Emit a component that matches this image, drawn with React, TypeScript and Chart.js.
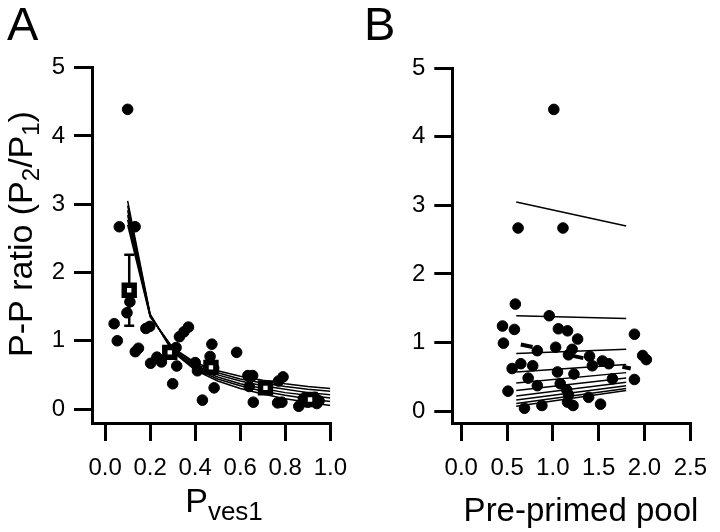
import React, { useEffect, useRef } from 'react';
import { Chart, registerables } from 'chart.js';

Chart.register(...registerables);

const FONT = "'Liberation Sans', Arial, Helvetica, sans-serif";

// ---------- Panel A data ----------
const A_X_TICKS = [0, 0.2, 0.4, 0.6, 0.8, 1.0];
const Y_TICKS = [0, 1, 2, 3, 4, 5];

const A_DOT_X = [0.100, 0.063, 0.133, 0.040, 0.054, 0.097, 0.110, 0.134, 0.148, 0.181, 0.198, 0.202, 0.230, 0.250, 0.300, 0.318, 0.315, 0.330, 0.350, 0.370, 0.400, 0.410, 0.432, 0.474, 0.466, 0.470, 0.482, 0.484, 0.584, 0.634, 0.655, 0.640, 0.658, 0.766, 0.785, 0.770, 0.790, 0.860, 0.880, 0.900, 0.930, 0.950, 0.940];
const A_DOT_Y = [4.39, 2.67, 2.67, 1.25, 1.00, 1.41, 1.57, 0.84, 0.89, 1.18, 1.21, 0.67, 0.76, 0.69, 0.37, 0.63, 0.90, 1.06, 1.13, 1.20, 0.68, 0.56, 0.13, 0.95, 0.77, 0.65, 0.60, 0.31, 0.83, 0.49, 0.49, 0.33, 0.10, 0.09, 0.10, 0.41, 0.47, 0.04, 0.15, 0.10, 0.17, 0.12, 0.08];

const A_MEAN_X = [0.107, 0.287, 0.470, 0.712, 0.910];
const A_MEAN_Y = [1.74, 0.83, 0.61, 0.31, 0.14];
const A_MEAN_ERR = [0.52, 0.08, 0.07, 0.05, 0.03];

const A_FIT_X = [0.1, 0.2, 0.3, 0.4, 0.5, 0.6, 0.7, 0.8, 0.9, 1.0];
const A_FIT_POOL_1 = [3.05, 1.39, 0.84, 0.57, 0.41, 0.30, 0.22, 0.15, 0.10, 0.05];
const A_FIT_POOL_2 = [2.98, 1.38, 0.85, 0.59, 0.44, 0.34, 0.26, 0.20, 0.15, 0.11];
const A_FIT_POOL_3 = [2.91, 1.37, 0.86, 0.61, 0.47, 0.37, 0.30, 0.24, 0.20, 0.16];
const A_FIT_POOL_4 = [2.84, 1.37, 0.87, 0.64, 0.50, 0.41, 0.34, 0.29, 0.24, 0.21];
const A_FIT_POOL_5 = [2.77, 1.36, 0.89, 0.66, 0.53, 0.44, 0.38, 0.33, 0.29, 0.26];
const A_FIT_POOL_6 = [2.70, 1.35, 0.90, 0.68, 0.56, 0.48, 0.42, 0.37, 0.33, 0.30];
const A_FITS = [A_FIT_POOL_1, A_FIT_POOL_2, A_FIT_POOL_3, A_FIT_POOL_4, A_FIT_POOL_5, A_FIT_POOL_6];

// ---------- Panel B data ----------
const B_X_TICKS = [0, 0.5, 1.0, 1.5, 2.0, 2.5];

const B_DOT_X = [1.01, 0.62, 1.11, 0.59, 0.96, 0.45, 0.58, 0.46, 1.06, 1.16, 1.27, 1.89, 1.03, 0.83, 1.21, 1.17, 1.40, 1.98, 2.02, 1.54, 1.61, 1.43, 0.65, 0.78, 0.555, 1.05, 1.23, 0.73, 1.65, 1.89, 0.83, 1.08, 0.51, 1.15, 1.17, 1.39, 0.69, 0.88, 1.16, 1.22, 1.52];
const B_DOT_Y = [4.40, 2.67, 2.67, 1.56, 1.39, 1.24, 1.19, 0.99, 1.20, 1.17, 1.05, 1.12, 0.93, 0.88, 0.90, 0.82, 0.80, 0.81, 0.75, 0.73, 0.69, 0.66, 0.69, 0.66, 0.62, 0.57, 0.54, 0.48, 0.47, 0.46, 0.37, 0.40, 0.29, 0.31, 0.24, 0.20, 0.04, 0.08, 0.13, 0.08, 0.10];

const B_FIT_X = [0.6, 1.8];
const B_FIT_START = [3.05, 1.39, 0.84, 0.57, 0.41, 0.30, 0.22, 0.16, 0.11, 0.07];
const B_FIT_END = [2.70, 1.35, 0.90, 0.68, 0.56, 0.48, 0.42, 0.37, 0.33, 0.30];

const B_DASH_X = [0.65, 1.85];
const B_DASH_Y = [0.97, 0.62];

// ---------- helpers ----------
type Part = [string, number, number];

function drawRich(ctx: CanvasRenderingContext2D, parts: Part[], cx: number, baseline: number) {
  let total = 0;
  const widths = parts.map(([t, s]) => {
    ctx.font = `${s}px ${FONT}`;
    const w = ctx.measureText(t).width;
    total += w;
    return w;
  });
  let x = cx - total / 2;
  parts.forEach(([t, s, dy], i) => {
    ctx.font = `${s}px ${FONT}`;
    ctx.fillText(t, x, baseline + dy);
    x += widths[i];
  });
}

function makeScale(min: number, max: number, ticks: number[], digits: number, pad: number, fit: (s: any) => void) {
  return {
    type: 'linear',
    min,
    max,
    afterBuildTicks: (s: any) => {
      s.ticks = ticks.map((v) => ({ value: v }));
    },
    afterFit: fit,
    grid: {
      display: true,
      drawOnChartArea: false,
      drawTicks: true,
      tickLength: 18,
      tickWidth: 3,
      tickColor: '#000',
      color: '#000',
      lineWidth: 3,
    },
    border: { display: true, color: '#000', width: 3 },
    ticks: {
      color: '#000',
      font: { family: FONT, size: 24 },
      padding: pad,
      maxRotation: 0,
      autoSkip: false,
      callback: (v: any) => Number(v).toFixed(digits),
    },
  };
}

function textPlugin(opts: {
  letter: string;
  letterX: number;
  xTitle: Part[];
  xTitleX: number;
  xTitleY: number;
  yTitle?: Part[];
  yTitleX?: number;
  yTitleY?: number;
}) {
  return {
    id: 'panelText',
    afterDraw(chart: any) {
      const ctx: CanvasRenderingContext2D = chart.ctx;
      ctx.save();
      ctx.fillStyle = '#000';
      ctx.textAlign = 'left';
      ctx.textBaseline = 'alphabetic';
      ctx.font = `47px ${FONT}`;
      ctx.fillText(opts.letter, opts.letterX, 40);
      drawRich(ctx, opts.xTitle, opts.xTitleX, opts.xTitleY);
      if (opts.yTitle) {
        ctx.translate(opts.yTitleX as number, opts.yTitleY as number);
        ctx.rotate(-Math.PI / 2);
        drawRich(ctx, opts.yTitle, 0, 0);
      }
      ctx.restore();
    },
  };
}

const errorBarPlugin = {
  id: 'errBars',
  beforeDatasetsDraw(chart: any) {
    const { ctx, scales } = chart;
    const xs = scales.x;
    const ys = scales.y;
    ctx.save();
    ctx.strokeStyle = '#000';
    ctx.lineWidth = 2.5;
    A_MEAN_X.forEach((mx, i) => {
      const px = xs.getPixelForValue(mx);
      const top = ys.getPixelForValue(A_MEAN_Y[i] + A_MEAN_ERR[i]);
      const bot = ys.getPixelForValue(A_MEAN_Y[i] - A_MEAN_ERR[i]);
      ctx.beginPath();
      ctx.moveTo(px, top);
      ctx.lineTo(px, bot);
      ctx.moveTo(px - 5, top);
      ctx.lineTo(px + 5, top);
      ctx.moveTo(px - 5, bot);
      ctx.lineTo(px + 5, bot);
      ctx.stroke();
    });
    ctx.restore();
  },
};

function dots(xs: number[], ys: number[]) {
  return {
    data: xs.map((x, i) => ({ x, y: ys[i] })),
    pointRadius: 5.3,
    pointBorderWidth: 1,
    pointBackgroundColor: '#000',
    pointBorderColor: '#000',
    showLine: false,
    order: 2,
  };
}

function line(xs: number[], ys: number[], width = 1.5, dash: number[] = []) {
  return {
    data: xs.map((x, i) => ({ x, y: ys[i] })),
    showLine: true,
    borderColor: '#000',
    borderWidth: width,
    borderDash: dash,
    pointRadius: 0,
    fill: false,
    tension: 0,
    order: 3,
  };
}

const commonOptions = {
  responsive: false,
  animation: false,
  devicePixelRatio: 1,
  events: [],
  plugins: { legend: { display: false }, tooltip: { enabled: false } },
};

function configA(): any {
  return {
    type: 'scatter',
    data: {
      datasets: [
        ...A_FITS.map((ys) => line(A_FIT_X, ys)),
        dots(A_DOT_X, A_DOT_Y),
        {
          data: A_MEAN_X.map((x, i) => ({ x, y: A_MEAN_Y[i] })),
          pointStyle: 'rect',
          pointRadius: 7,
          pointBorderWidth: 5.5,
          pointBackgroundColor: '#fff',
          pointBorderColor: '#000',
          showLine: false,
          order: 1,
        },
      ],
    },
    options: {
      ...commonOptions,
      layout: { padding: { left: 0, right: 19.3, top: 67.7, bottom: 0 } },
      scales: {
        x: makeScale(-0.0583, 1.0, A_X_TICKS, 1, 13, (s: any) => { s.height = 109; }),
        y: makeScale(-0.205, 5, Y_TICKS, 0, 9, (s: any) => { s.width = 92; }),
      },
    },
    plugins: [
      errorBarPlugin,
      textPlugin({
        letter: 'A',
        letterX: 7,
        xTitle: [['P', 34, 0], ['ves1', 26, 8]],
        xTitleX: 224,
        xTitleY: 512,
        yTitle: [['P-P ratio (P', 34, 0], ['2', 24, 7], ['/P', 34, 0], ['1', 24, 7], [')', 34, 0]],
        yTitleX: 32,
        yTitleY: 234,
      }),
    ],
  };
}

function configB(): any {
  return {
    type: 'scatter',
    data: {
      datasets: [
        ...B_FIT_START.map((y0, i) => line(B_FIT_X, [y0, B_FIT_END[i]])),
        { ...line(B_DASH_X, B_DASH_Y, 4, [12, 40]), order: 2.5 },
        dots(B_DOT_X, B_DOT_Y),
      ],
    },
    options: {
      ...commonOptions,
      layout: { padding: { left: 0, right: 18.3, top: 68.3, bottom: 0 } },
      scales: {
        x: makeScale(-0.098, 2.5, B_X_TICKS, 1, 13, (s: any) => { s.height = 109; }),
        y: makeScale(-0.175, 5, Y_TICKS, 0, 9, (s: any) => { s.width = 92.3; }),
      },
    },
    plugins: [
      textPlugin({
        letter: 'B',
        letterX: 4,
        xTitle: [['Pre-primed pool', 33, 0]],
        xTitleX: 221,
        xTitleY: 521,
      }),
    ],
  };
}

export default function App() {
  const refA = useRef<HTMLCanvasElement | null>(null);
  const refB = useRef<HTMLCanvasElement | null>(null);

  useEffect(() => {
    const a = new Chart(refA.current as HTMLCanvasElement, configA());
    const b = new Chart(refB.current as HTMLCanvasElement, configB());
    return () => {
      a.destroy();
      b.destroy();
    };
  }, []);

  return (
    <div
      style={{
        position: 'absolute',
        left: 0,
        top: 0,
        width: 720,
        height: 532,
        background: '#fff',
        display: 'flex',
        overflow: 'hidden',
      }}
    >
      <canvas ref={refA} width={360} height={532} style={{ display: 'block', width: 360, height: 532 }} />
      <canvas ref={refB} width={360} height={532} style={{ display: 'block', width: 360, height: 532 }} />
    </div>
  );
}
